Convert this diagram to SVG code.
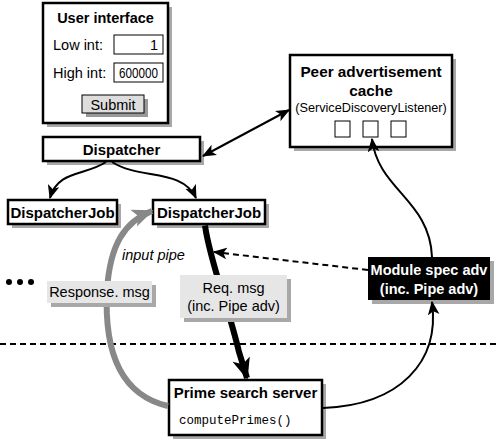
<svg xmlns="http://www.w3.org/2000/svg" width="500" height="441" viewBox="0 0 500 441">
<defs>
<style>
text{font-family:"Liberation Sans",Arial,sans-serif;font-size:14.5px;fill:#000}
.b{font-weight:bold;font-size:15px}
.m{font-family:"Liberation Mono","DejaVu Sans Mono",monospace;font-size:12.5px}
.box{fill:#fff;stroke:#000;stroke-width:2.5}
.sh{fill:#a8a8a8}
.lbl{fill:#e6e6e6}
.in{fill:#fff;stroke:#000;stroke-width:1}
.ln{fill:none;stroke:#000;stroke-width:2}
</style>
<marker id="ah" viewBox="0 0 12 10" refX="11" refY="5" markerWidth="14" markerHeight="12" markerUnits="userSpaceOnUse" orient="auto-start-reverse">
<path d="M0,0 L12,5 L0,10 L3,5 Z" fill="#000"/>
</marker>
<marker id="ahBig" viewBox="0 0 12 10" refX="11" refY="5" markerWidth="26" markerHeight="18" markerUnits="userSpaceOnUse" orient="auto">
<path d="M0,0 L12,5 L0,10 L3,5 Z" fill="#000"/>
</marker>
<marker id="ahGray" viewBox="0 0 12 10" refX="11" refY="5" markerWidth="24" markerHeight="18" markerUnits="userSpaceOnUse" orient="auto">
<path d="M0,0 L12,5 L0,10 L3,5 Z" fill="#888"/>
</marker>
</defs>

<line x1="0" y1="344" x2="500" y2="344" stroke="#000" stroke-width="2" stroke-dasharray="6,4"/>
<g id="dots">
<circle cx="9" cy="282" r="3"/><circle cx="20" cy="282" r="3"/><circle cx="31" cy="282" r="3"/>
</g>

<g id="user-interface">
<rect class="sh" x="47" y="7" width="125" height="120"/>
<rect class="box" x="43" y="3" width="125" height="120"/>
<text class="b" x="105.5" y="23" text-anchor="middle" style="font-size:14.5px">User interface</text>
<text x="53" y="50">Low int:</text>
<rect class="in" x="114" y="35" width="49" height="19"/>
<text x="158" y="50" text-anchor="end">1</text>
<text x="53" y="78">High int:</text>
<rect class="in" x="114" y="63" width="49" height="19"/>
<text x="158" y="78" text-anchor="end" textLength="39" lengthAdjust="spacingAndGlyphs">600000</text>
<rect x="86" y="99" width="62" height="18" fill="#999"/>
<rect x="82" y="95" width="62" height="18" fill="#ddd" stroke="#000" stroke-width="1"/>
<text x="113" y="109.5" text-anchor="middle">Submit</text>
</g>

<g id="peer-cache">
<rect class="sh" x="294" y="59" width="162" height="92"/>
<rect class="box" x="290" y="55" width="162" height="92"/>
<text class="b" x="371" y="77" text-anchor="middle" style="font-size:15.3px">Peer advertisement</text>
<text class="b" x="371" y="96" text-anchor="middle" style="font-size:15.3px">cache</text>
<text x="371" y="112" text-anchor="middle" style="font-size:12.7px">(ServiceDiscoveryListener)</text>
<rect class="in" x="335" y="121" width="15" height="16"/>
<rect class="in" x="363" y="121" width="15" height="16"/>
<rect class="in" x="391" y="121" width="15" height="16"/>
</g>

<g id="dispatcher">
<rect class="sh" x="47" y="141" width="157" height="24"/>
<rect class="box" x="43" y="137" width="157" height="24"/>
<text class="b" x="121.5" y="154.5" text-anchor="middle">Dispatcher</text>
</g>

<g id="dispatcherjob-left">
<rect class="sh" x="12" y="204" width="109" height="24"/>
<rect class="box" x="8" y="200" width="109" height="24"/>
<text class="b" x="62.5" y="217.5" text-anchor="middle">DispatcherJob</text>
</g>

<g id="dispatcherjob-right">
<rect class="sh" x="157" y="204" width="112" height="24"/>
<rect class="box" x="153" y="200" width="112" height="24"/>
<text class="b" x="209" y="217.5" text-anchor="middle">DispatcherJob</text>
</g>

<g id="module-spec">
<rect class="sh" x="372" y="261" width="122" height="43"/>
<rect x="368" y="257" width="122" height="43" fill="#000"/>
<text class="b" x="429" y="275" text-anchor="middle" style="fill:#fff;font-size:14.5px">Module spec adv</text>
<text class="b" x="429" y="294" text-anchor="middle" style="fill:#fff;font-size:14.5px">(inc. Pipe adv)</text>
</g>

<g id="prime-server">
<rect class="sh" x="173" y="384" width="153" height="55"/>
<rect class="box" x="169" y="380" width="153" height="55"/>
<text class="b" x="245.5" y="398" text-anchor="middle">Prime search server</text>
<text class="m" x="179" y="424">computePrimes()</text>
</g>

<g id="connectors">
<path class="ln" d="M106,162 C85,176 58,170 50,198" marker-end="url(#ah)"/>
<path class="ln" d="M112,162 C140,180 182,168 196,198" marker-end="url(#ah)"/>
<path class="ln" d="M203,156 L289,110" marker-start="url(#ah)" marker-end="url(#ah)"/>
<path d="M205,225.5 C210,262 228,305 239,352 L247,378" fill="none" stroke="#000" stroke-width="6" marker-end="url(#ahBig)"/>
<path d="M168,406 C120,395 104,350 107,290 C110,245 124,222 152,211" fill="none" stroke="#888" stroke-width="6" marker-end="url(#ahGray)"/>
<path class="ln" d="M368,270 L214,252" stroke-dasharray="6,4" marker-end="url(#ah)"/>
<path class="ln" d="M432,257 C430,200 378,190 372,139" marker-end="url(#ah)"/>
<path class="ln" d="M323,408 C400,405 440,362 432,302" marker-end="url(#ah)"/>
</g>

<text x="122" y="260" style="font-style:italic">input pipe</text>

<g id="response-msg">
<rect class="sh" x="51" y="285" width="105" height="22"/>
<rect class="lbl" x="47" y="281" width="105" height="22"/>
<text x="99.5" y="297" text-anchor="middle">Response. msg</text>
</g>

<g id="req-msg">
<rect class="sh" x="184" y="279" width="107" height="43"/>
<rect class="lbl" x="180" y="275" width="107" height="43"/>
<text x="233.5" y="293" text-anchor="middle">Req. msg</text>
<text x="233.5" y="311" text-anchor="middle">(inc. Pipe adv)</text>
</g>
</svg>
